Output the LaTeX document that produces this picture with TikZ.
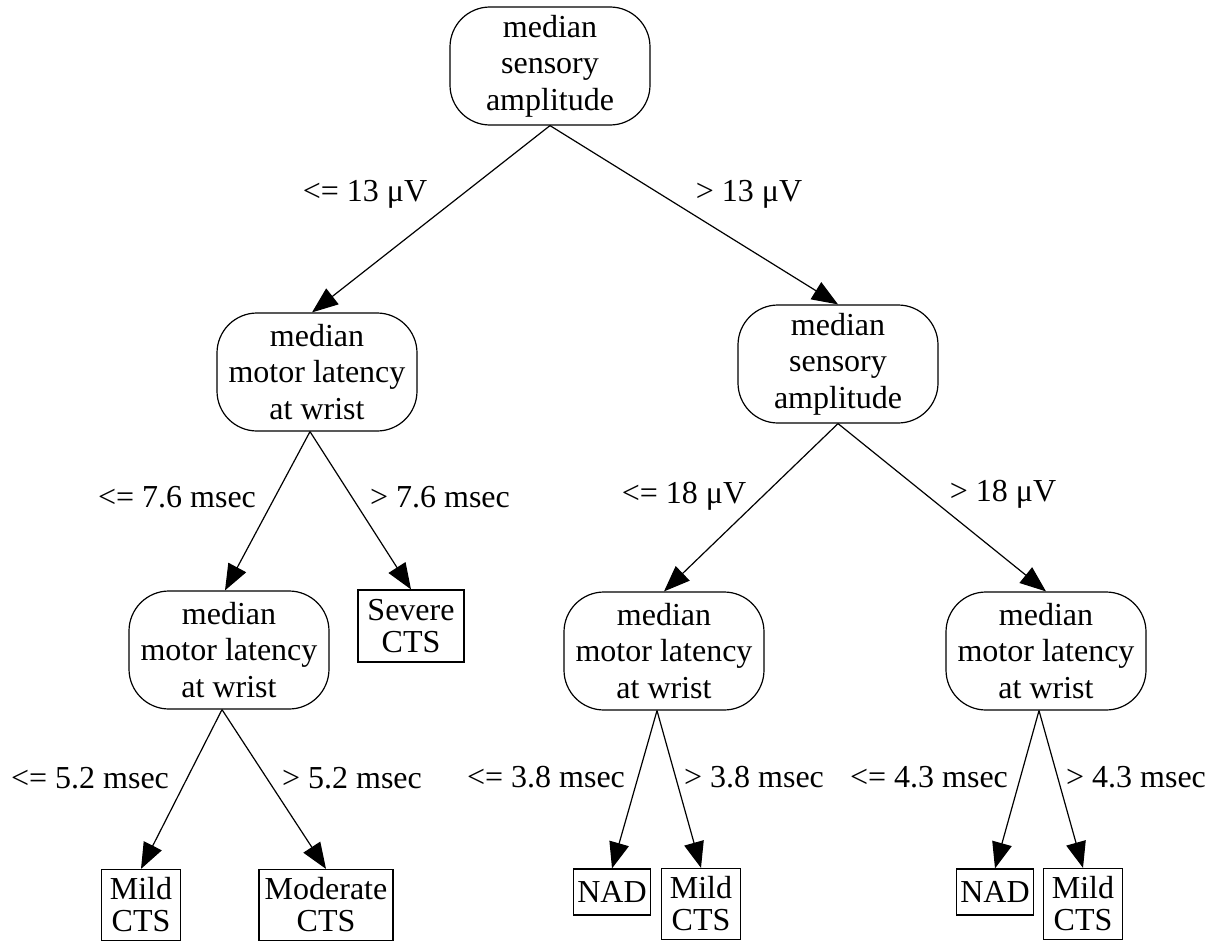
\documentclass[tikz,border=0pt]{standalone}
\usepackage{fontspec}
\setmainfont{Liberation Serif}
\usetikzlibrary{arrows.meta}
\begin{document}
\begin{tikzpicture}[x=1pt,y=-1pt,
  every node/.style={font=\fontsize{32}{36.5}\selectfont, inner sep=0pt},
  test/.style={draw, line width=1.2pt, rounded corners=40pt, align=center,
    minimum width=200pt, minimum height=118pt},
  leaf/.style={draw, line width=1.2pt, align=center,
    font=\fontsize{32}{32}\selectfont, minimum height=71pt},
  lbl/.style={},
  arr/.style={line width=1.2pt, -{Triangle[length=26pt,width=20pt]}}]
\useasboundingbox (0,0) rectangle (1220,942);
% decision nodes
\node[test] (root) at (550,66) {median\\sensory\\amplitude};
\node[test] (l2) at (317,372) {median\\motor latency\\at wrist};
\node[test] (r2) at (838,364) {median\\sensory\\amplitude};
\node[test] (l3) at (229,650) {median\\motor latency\\at wrist};
\node[test] (r3a) at (664,651) {median\\motor latency\\at wrist};
\node[test] (r3b) at (1046,651) {median\\motor latency\\at wrist};
% leaves
\node[leaf, minimum width=106pt, minimum height=72pt] (severe) at (411,626) {Severe\\CTS};
\node[leaf, minimum width=79pt] (mild1) at (141,905) {Mild\\CTS};
\node[leaf, minimum width=134pt] (moderate) at (326,905) {Moderate\\CTS};
\node[leaf, minimum width=77pt, minimum height=46pt] (nad1) at (612,892) {NAD};
\node[leaf, minimum width=79pt] (mild2) at (701,904) {Mild\\CTS};
\node[leaf, minimum width=77pt, minimum height=46pt] (nad2) at (995,892) {NAD};
\node[leaf, minimum width=79pt] (mild3) at (1083,904) {Mild\\CTS};
% edges
\draw[arr] (root.south) -- ([xshift=-5pt]l2.north);
\draw[arr] (root.south) -- (r2.north);
\draw[arr] ([xshift=-7pt]l2.south) -- ([xshift=-4pt]l3.north);
\draw[arr] ([xshift=-7pt]l2.south) -- (severe.north);
\draw[arr] (r2.south) -- (r3a.north);
\draw[arr] (r2.south) -- (r3b.north);
\draw[arr] ([xshift=-7pt]l3.south) -- (mild1.north);
\draw[arr] ([xshift=-7pt]l3.south) -- (moderate.north);
\draw[arr] ([xshift=-7pt]r3a.south) -- (nad1.north);
\draw[arr] ([xshift=-7pt]r3a.south) -- (mild2.north);
\draw[arr] ([xshift=-7pt]r3b.south) -- (nad2.north);
\draw[arr] ([xshift=-7pt]r3b.south) -- (mild3.north);
% edge labels
\node[lbl] (e1) at (365,194) {<= 13 μV};
\node[lbl] (e2) at (749,194) {> 13 μV};
\node[lbl] (e3) at (177,497) {<= 7.6 msec};
\node[lbl] (e4) at (440,497) {> 7.6 msec};
\node[lbl] (e5) at (684,496) {<= 18 μV};
\node[lbl] (e6) at (1003,494) {> 18 μV};
\node[lbl] (e7) at (90,778) {<= 5.2 msec};
\node[lbl] (e8) at (352,778) {> 5.2 msec};
\node[lbl] (e9) at (546,777) {<= 3.8 msec};
\node[lbl] (e10) at (754,777) {> 3.8 msec};
\node[lbl] (e11) at (929,777) {<= 4.3 msec};
\node[lbl] (e12) at (1136,777) {> 4.3 msec};
\end{tikzpicture}
\end{document}
